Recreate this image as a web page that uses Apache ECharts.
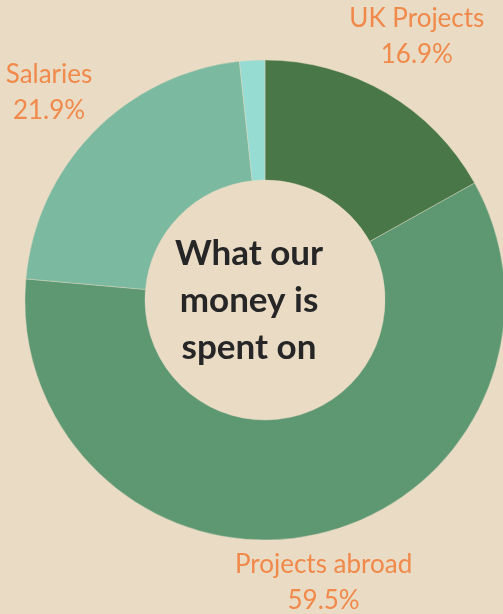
<!DOCTYPE html>
<html><head><meta charset="utf-8">
<style>html,body{margin:0;padding:0;background:#e9dbc4;}#c{width:503px;height:614px;}</style>
<script src="https://cdn.jsdelivr.net/npm/echarts@6/dist/echarts.min.js"></script>
</head><body><div id="c"></div>
<script>
const categories = ['UK Projects', 'Projects abroad', 'Salaries', 'Other'];
const values = [16.9, 59.5, 21.9, 1.7];
const colors = ['#4a7747', '#5e9872', '#7bb9a0', '#96dcd2'];
const showLabel = [true, true, true, false];
const centerTitle = 'What our\nmoney is\nspent on';

const chart = echarts.init(document.getElementById('c'), null, {renderer: 'canvas'});
const labelNudge = {0: [0, -13], 1: [-7, -1], 2: [-4, -4]};
chart.setOption({
  backgroundColor: '#e9dbc4',
  animation: false,
  graphic: [{
    type: 'text',
    x: 249, y: 301,
    style: {
      text: centerTitle,
      align: 'center', verticalAlign: 'middle',
      fontFamily: 'Lato', fontWeight: 'bold', fontSize: 35, lineHeight: 47, fill: '#262626'
    }
  }],
  series: [{
    type: 'pie',
    center: [265, 300],
    radius: [120, 240],
    startAngle: 90,
    clockwise: true,
    percentPrecision: 1,
    avoidLabelOverlap: false,
    itemStyle: {borderColor: '#e9dbc4', borderWidth: 0.4},
    label: {
      show: true, position: 'outside', overflow: 'none',
      formatter: '{b}\n{d}%',
      fontFamily: 'Lato', fontSize: 26, lineHeight: 36, color: '#f0894a'
    },
    labelLine: {show: false, length: 50, length2: 0},
    labelLayout: function (p) {
      const n = labelNudge[p.dataIndex] || [0, 0];
      return {align: 'center', verticalAlign: 'middle', dx: n[0], dy: n[1]};
    },
    data: categories.map((n, i) => ({
      name: n, value: values[i],
      itemStyle: {color: colors[i]},
      label: {show: showLabel[i]}
    }))
  }]
});
</script></body></html>
